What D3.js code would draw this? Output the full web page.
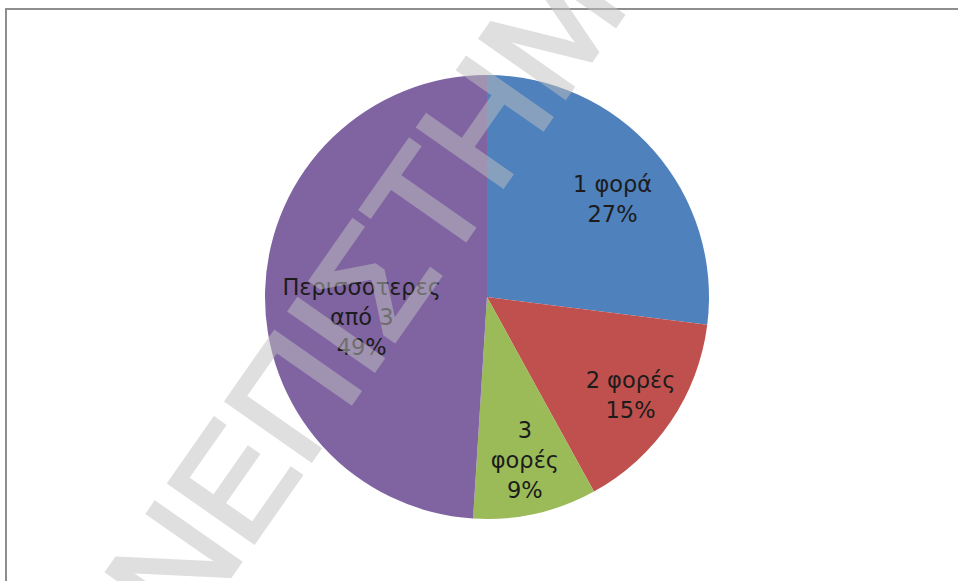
<!DOCTYPE html>
<html>
<head>
<meta charset="utf-8">
<script src="https://cdn.jsdelivr.net/npm/d3@7"></script>
<style>
  html, body { margin: 0; padding: 0; background: #ffffff; }
  svg { display: block; }
</style>
</head>
<body>
<svg id="chart" width="958" height="581"></svg>
<script>
// Number of times — share of respondents
const categories = ["1 φορά", "2 φορές", "3 φορές", "Περισσοτερες από 3"];
const values = [27, 15, 9, 49];
const labelLines = [["1 φορά", "27%"], ["2 φορές", "15%"], ["3", "φορές", "9%"], ["Περισσοτερες", "από 3", "49%"]];
const colors = ["#4f81bd", "#c0504d", "#9bbb59", "#8064a2"];

// Label placement: nudge from the slice centroid at 0.7 r
const labelNudge = [[9, 5], [15, 11], [4, 11], [30, 25]];
const watermarkText = "ΠΑΝΕΠΙΣΤΗΜΙΟ";

const W = 958, H = 581;
const cx = 487, cy = 297, r = 222;

const svg = d3.select("#chart");

// Chart frame (top and left edges)
svg.append("line").attr("x1", 5).attr("y1", 9).attr("x2", W).attr("y2", 9)
  .attr("stroke", "#8e8e8e").attr("stroke-width", 2);
svg.append("line").attr("x1", 6).attr("y1", 8).attr("x2", 6).attr("y2", H)
  .attr("stroke", "#8e8e8e").attr("stroke-width", 2);

const pie = d3.pie().sort(null).value(d => d)(values);
const arc = d3.arc().innerRadius(0).outerRadius(r);
const labelArc = d3.arc().innerRadius(r * 0.7).outerRadius(r * 0.7);

const g = svg.append("g").attr("transform", `translate(${cx},${cy})`);

g.selectAll("path.slice")
  .data(pie)
  .join("path")
  .attr("class", "slice")
  .attr("d", arc)
  .attr("fill", (d, i) => colors[i]);

const lineH = 30, capHalf = 8;
g.selectAll("text.lbl")
  .data(pie)
  .join("text")
  .attr("class", "lbl")
  .attr("font-family", "'DejaVu Sans', Verdana, sans-serif")
  .attr("font-size", 22.5)
  .attr("fill", "#1c1c1c")
  .attr("text-anchor", "middle")
  .each(function (d, i) {
    const [px, py] = labelArc.centroid(d);
    const x = px + labelNudge[i][0];
    const lines = labelLines[i];
    const y0 = py + labelNudge[i][1] + capHalf - (lines.length - 1) * lineH / 2;
    d3.select(this).selectAll("tspan")
      .data(lines)
      .join("tspan")
      .attr("x", x)
      .attr("y", (t, k) => y0 + k * lineH)
      .text(t => t);
  });

// Diagonal watermark across the chart
const wm = svg.append("g").attr("opacity", 0.5);
const wt = wm.append("text")
  .attr("font-family", "'Liberation Sans', Arial, sans-serif")
  .attr("font-size", 150)
  .attr("fill", "#c0c0c0")
  .attr("stroke", "#c0c0c0")
  .attr("stroke-width", 4)
  .attr("stroke-linejoin", "miter")
  .text(watermarkText);
const adv = wt.node().getSubStringLength(0, 3);
wt.attr("transform", `translate(240,562) rotate(-55) translate(${-adv + 12},0)`);
</script>
</body>
</html>
